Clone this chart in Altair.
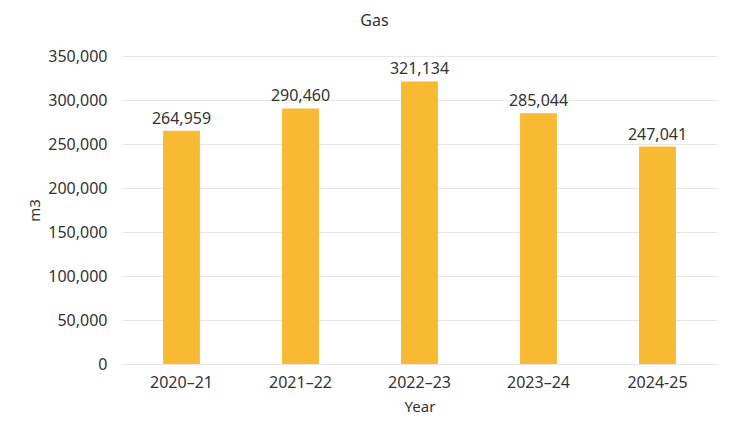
import altair as alt
import pandas as pd

years = ["2020–21", "2021–22", "2022–23", "2023–24", "2024-25"]
values = [264959, 290460, 321134, 285044, 247041]
y_ticks = [0, 50000, 100000, 150000, 200000, 250000, 300000, 350000]

df = pd.DataFrame({"Year": years, "m3": values})

FONT = "Noto Sans"
COLOR = "#F9BA33"
TXT = "#333333"

base = alt.Chart(df).encode(
    x=alt.X("Year:N", sort=years,
            scale=alt.Scale(paddingInner=0.69, paddingOuter=0.345),
            axis=alt.Axis(title="Year", labelAngle=0, ticks=False, domain=True,
                          domainColor="#e6e6e6", labelPadding=10, titlePadding=9,
                          labelFontSize=16, titleFontSize=15, labelColor=TXT,
                          titleColor=TXT, labelFont=FONT, titleFont=FONT,
                          titleFontWeight="normal")),
    y=alt.Y("m3:Q", scale=alt.Scale(domain=[0, 350000]),
            axis=alt.Axis(title="m3", values=y_ticks, format=",.0f",
                          ticks=False, domain=False, gridColor="#e6e6e6",
                          labelPadding=15, titlePadding=5,
                          labelFontSize=16, titleFontSize=15, labelColor=TXT,
                          titleColor=TXT, labelFont=FONT, titleFont=FONT,
                          titleFontWeight="normal")),
)

bars = base.mark_bar(color=COLOR)
labels = base.mark_text(dy=-12, fontSize=16, font=FONT, color=TXT).encode(
    text=alt.Text("m3:Q", format=",.0f")
)

chart = (bars + labels).properties(
    width=595, height=308,
    autosize=alt.AutoSizeParams(type="none"),
    padding={"left": 114, "top": 48, "right": 25, "bottom": 50},
    title=alt.TitleParams("Gas", fontSize=16, font=FONT, fontWeight="normal",
                          color=TXT, anchor="middle", dx=-45, offset=19),
).configure_view(stroke=None)

chart.save("out.html", embed_options={"renderer": "svg", "actions": False})
